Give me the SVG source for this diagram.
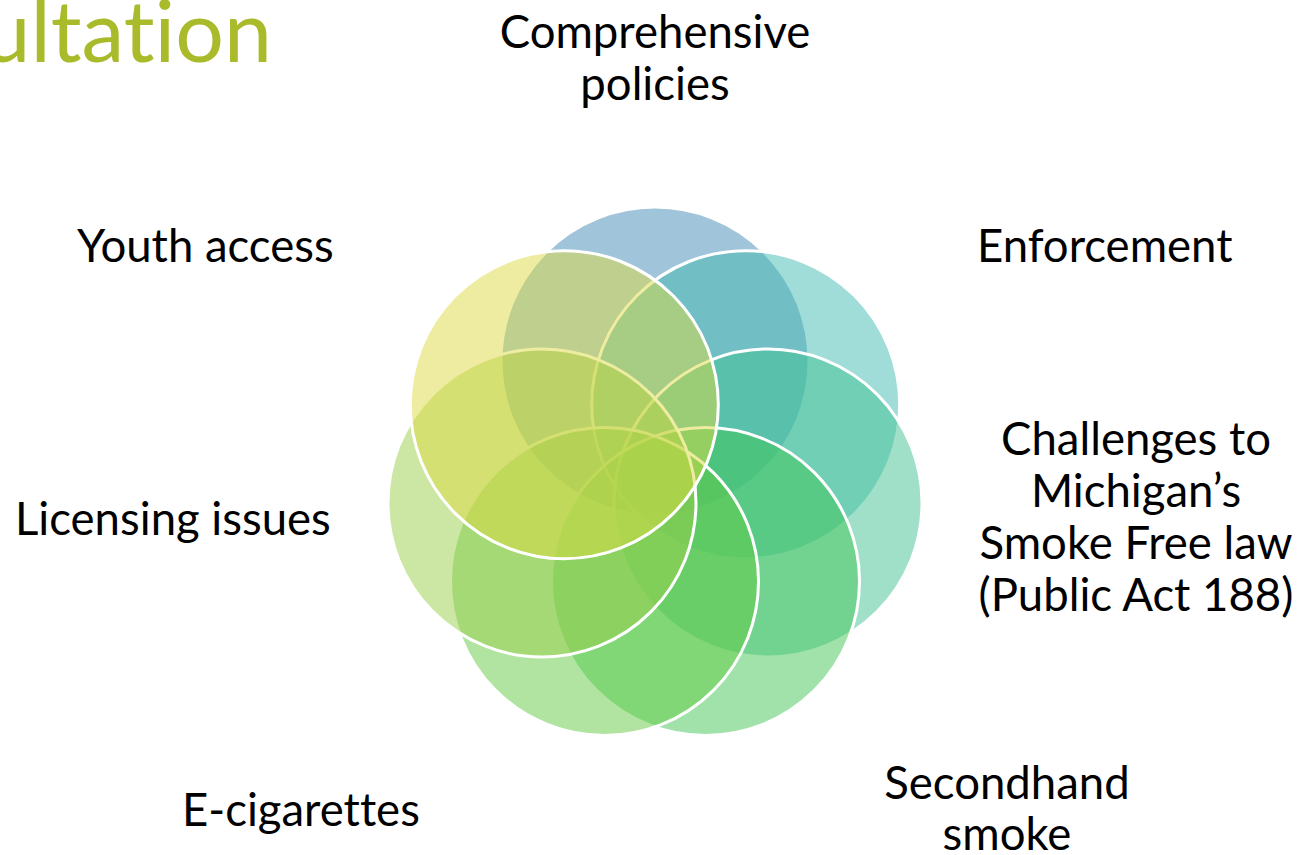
<svg xmlns="http://www.w3.org/2000/svg" width="1299" height="855" viewBox="0 0 1299 855">
<style>
text{font-variant-ligatures:none;font-feature-settings:"liga" 0,"dlig" 0}
.c{stroke:#fff;stroke-width:3;fill-opacity:0.5}
.t{font-family:Lato,"Liberation Sans",sans-serif;font-size:45.5px;fill:#000}
.m{text-anchor:middle}
</style>
<rect width="1299" height="855" fill="#fff"/>
<text x="272" y="62" text-anchor="end" font-family="Lato,'Liberation Sans',sans-serif" font-size="86" fill="#a9ba2b">ultation</text>
<g id="circles">
<g id="n1"><circle class="c" cx="655" cy="361" r="154" fill="#4189b3"/></g>
<g id="n2"><circle class="c" cx="745.7" cy="404.7" r="154" fill="#41b9b1"/></g>
<g id="n3"><circle class="c" cx="768" cy="503" r="154" fill="#41c191"/></g>
<g id="n4"><circle class="c" cx="705.5" cy="581.5" r="154" fill="#41c555"/></g>
<g id="n5"><circle class="c" cx="604.5" cy="581.5" r="154" fill="#61c941"/></g>
<g id="n6"><circle class="c" cx="542" cy="503" r="154" fill="#99cd49"/></g>
<g id="n7"><circle class="c" cx="564.3" cy="404.7" r="154" fill="#ddd941"/></g>
</g>
<g id="labels">
<text class="t m" x="655" y="48">Comprehensive</text>
<text class="t m" x="655" y="100">policies</text>
<text class="t" x="977" y="262">Enforcement</text>
<text class="t m" x="1136" y="455">Challenges to</text>
<text class="t m" x="1136" y="507">Michigan’s</text>
<text class="t m" x="1136" y="559">Smoke Free law</text>
<text class="t m" x="1136" y="611">(Public Act 188)</text>
<text class="t m" x="1007" y="799">Secondhand</text>
<text class="t m" x="1007" y="850">smoke</text>
<text class="t" x="182" y="826">E-cigarettes</text>
<text class="t" x="15" y="535">Licensing issues</text>
<text class="t" x="77" y="262">Youth access</text>
</g>
</svg>
